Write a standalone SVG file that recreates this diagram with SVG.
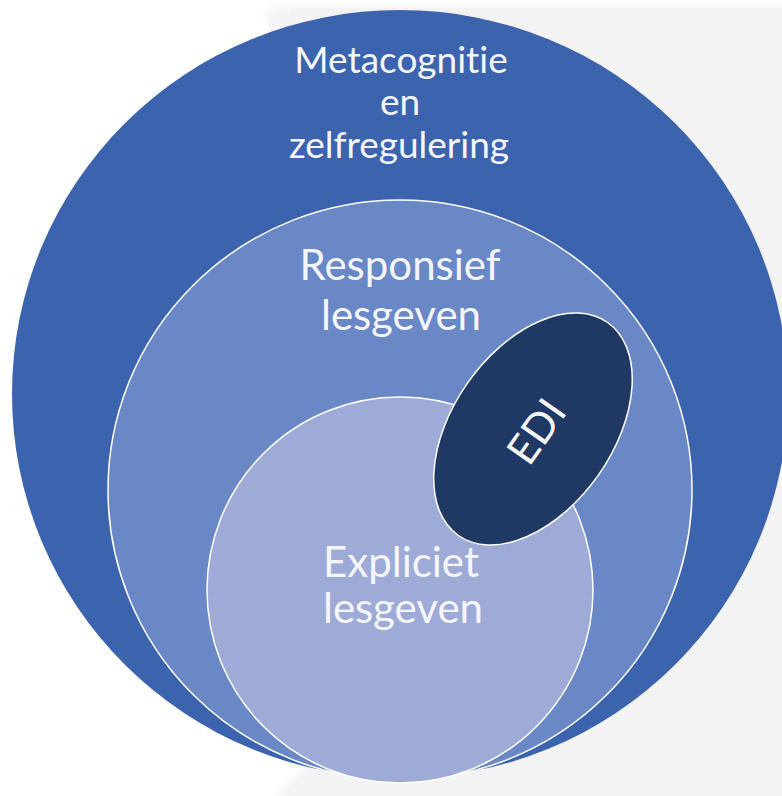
<svg xmlns="http://www.w3.org/2000/svg" width="782" height="796" viewBox="0 0 782 796">
  <defs>
    <filter id="soft" x="-10%" y="-10%" width="120%" height="120%">
      <feGaussianBlur stdDeviation="5"/>
    </filter>
    <style>
      .ring { stroke: #ffffff; stroke-width: 1.5; }
      .lbl { font-family: Lato, "Open Sans", "Liberation Sans", sans-serif; fill: #f4f6fb; text-anchor: middle; font-variant-ligatures: none; font-feature-settings: "liga" 0, "clig" 0; }
    </style>
  </defs>
  <rect x="0" y="0" width="782" height="796" fill="#ffffff"/>
  <polygon points="268,8 800,8 800,820 277,820 277,796 305,768" fill="#f3f3f3" filter="url(#soft)"/>
  <rect x="290" y="8" width="492" height="760" fill="#f3f3f3"/>

  <g id="outer">
    <ellipse cx="400" cy="394" rx="388" ry="384" fill="#3c64ae"/>
    <text class="lbl" x="401" y="73" font-size="37">Metacognitie</text>
    <text class="lbl" x="400" y="115" font-size="37">en</text>
    <text class="lbl" x="399" y="158" font-size="37">zelfregulering</text>
  </g>
  <g id="responsief">
    <ellipse cx="400" cy="490" rx="292" ry="290" fill="#6a87c6" class="ring"/>
    <text class="lbl" x="400" y="280" font-size="42">Responsief</text>
    <text class="lbl" x="401" y="330" font-size="42">lesgeven</text>
  </g>
  <g id="expliciet">
    <circle cx="400" cy="590" r="193" fill="#9eabd7" class="ring"/>
    <text class="lbl" x="401" y="577" font-size="42">Expliciet</text>
    <text class="lbl" x="403" y="623" font-size="42">lesgeven</text>
  </g>
  <g id="edi">
    <ellipse cx="0" cy="0" rx="130" ry="80" transform="translate(533,429) rotate(-55)" fill="#203864" class="ring"/>
    <text class="lbl" x="0" y="14" font-size="42" transform="translate(537,432) rotate(-55)">EDI</text>
  </g>
  <g id="connectors"/>
</svg>
